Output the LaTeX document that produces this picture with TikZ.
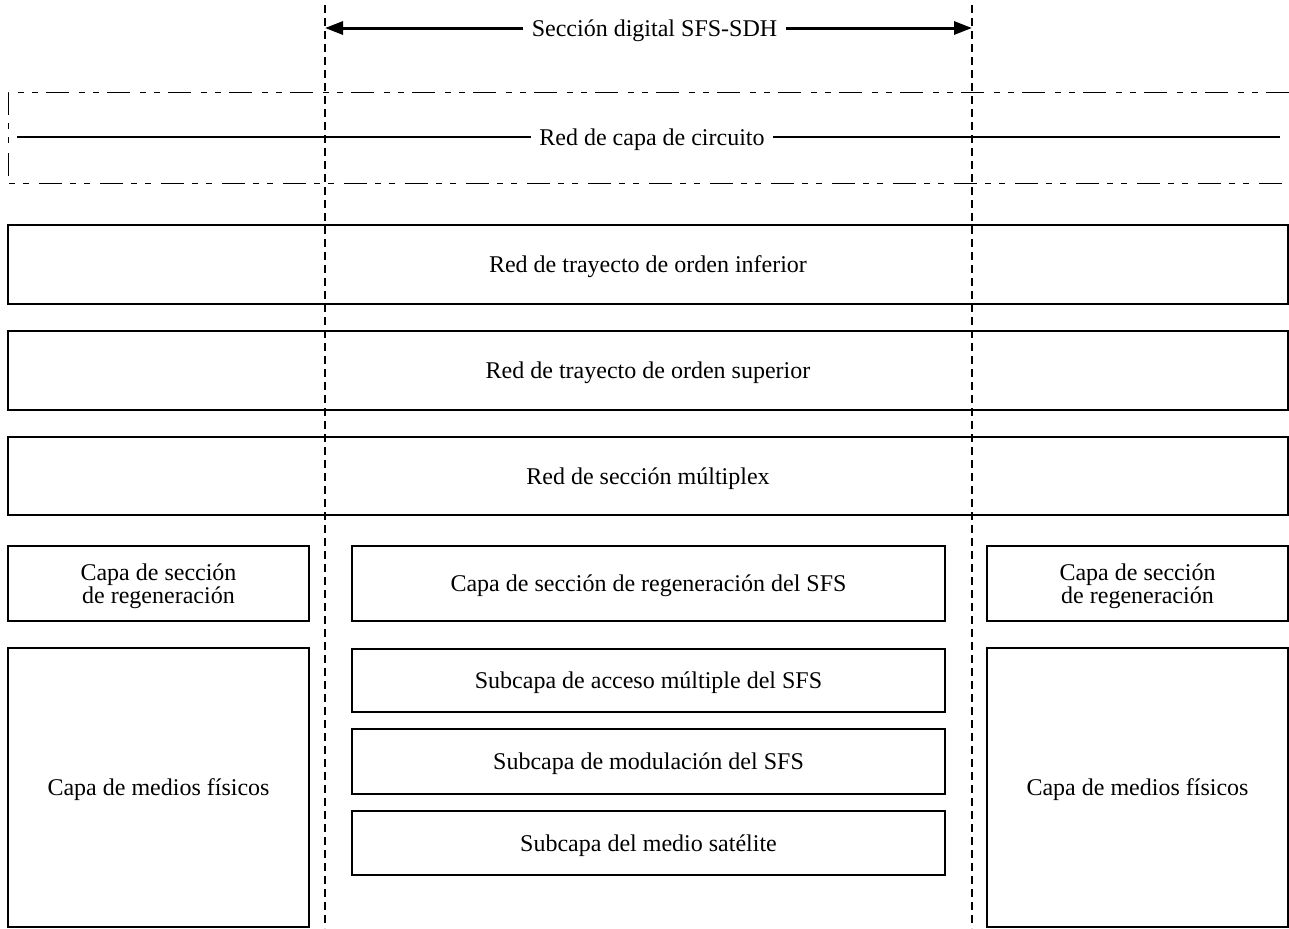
\documentclass[tikz,border=0pt]{standalone}
\usepackage{fontspec}
\setmainfont{Liberation Serif}
\usepackage{tikz}
\usetikzlibrary{positioning, calc, arrows.meta}

\begin{document}
\begin{tikzpicture}[x=0.5pt, y=-0.5pt,
        every node/.style={font=\fontsize{12}{11.5}\selectfont, text depth=0pt},
        layer/.style={draw, line width=0.8pt, rectangle, align=center, inner sep=0pt},
        border/.style={line width=0.6pt, dash pattern=on 4pt off 2.5pt},
        tip/.style={-{Triangle[length=9pt, width=6.5pt]}, line width=1.5pt}]
        % size of the page
        \useasboundingbox (0,0) rectangle (1289,928);

        \coordinate (L1) at (325,5);
        \coordinate (L2) at (325,928);
        \coordinate (R1) at (972,5);
        \coordinate (R2) at (972,928);

        % the SFS-SDH section arrow
        \coordinate (aL) at (325,28);
        \coordinate (aR) at (972,28);
        \node[inner sep=4pt] (secc) at (654.5,28) {Sección digital SFS-SDH};
        \draw[tip] (secc.west) -- (aL);
        \draw[tip] (secc.east) -- (aR);

        % circuit layer, dash-dot frame
        \coordinate (f1) at (1289,92);
        \coordinate (f2) at (8,92);
        \coordinate (f3) at (8,183);
        \coordinate (f4) at (1289,183);
        \draw[line width=0.5pt, dash pattern=on 11.5pt off 4pt on 3pt off 4pt on 3pt off 5pt]
            (f1) -- (f2) -- (f3) -- (f4);

        \coordinate (cL) at (17,137);
        \coordinate (cR) at (1280,137);
        \node[inner sep=4pt] (circ) at (652,137) {Red de capa de circuito};
        \draw[line width=1pt] (cL) -- (circ.west);
        \draw[line width=1pt] (circ.east) -- (cR);

        % the full width layers
        \node[layer, minimum width=640pt, minimum height=39.5pt] (inf) at (648,264.5) {Red de trayecto de orden inferior};
        \node[layer, minimum width=640pt, minimum height=39.5pt] (sup) at (648,370.5) {Red de trayecto de orden superior};
        \node[layer, minimum width=640pt, minimum height=39pt] (mux) at (648,476) {Red de sección múltiplex};

        % regeneration layers
        \node[layer, minimum width=150.5pt, minimum height=37.5pt] (regL) at (158.5,583.5) {Capa de sección\\de regeneración};
        \node[layer, minimum width=296.5pt, minimum height=37.5pt] (regC) at (648.5,583.5) {Capa de sección de regeneración del SFS};
        \node[layer, minimum width=150.5pt, minimum height=37.5pt] (regR) at (1137.5,583.5) {Capa de sección\\de regeneración};

        % physical media
        \node[layer, minimum width=150.5pt, minimum height=139.5pt] (medL) at (158.5,787.5) {Capa de medios físicos};
        \node[layer, minimum width=150.5pt, minimum height=139.5pt] (medR) at (1137.5,787.5) {Capa de medios físicos};

        % SFS sublayers
        \node[layer, minimum width=296.5pt, minimum height=31.5pt] (acc) at (648.5,680.5) {Subcapa de acceso múltiple del SFS};
        \node[layer, minimum width=296.5pt, minimum height=32.5pt] (mod) at (648.5,761.5) {Subcapa de modulación del SFS};
        \node[layer, minimum width=296.5pt, minimum height=32pt] (sat) at (648.5,843) {Subcapa del medio satélite};

        % section limits
        \draw[border] (L1) -- (L2);
        \draw[border] (R1) -- (R2);
\end{tikzpicture}
\end{document}
